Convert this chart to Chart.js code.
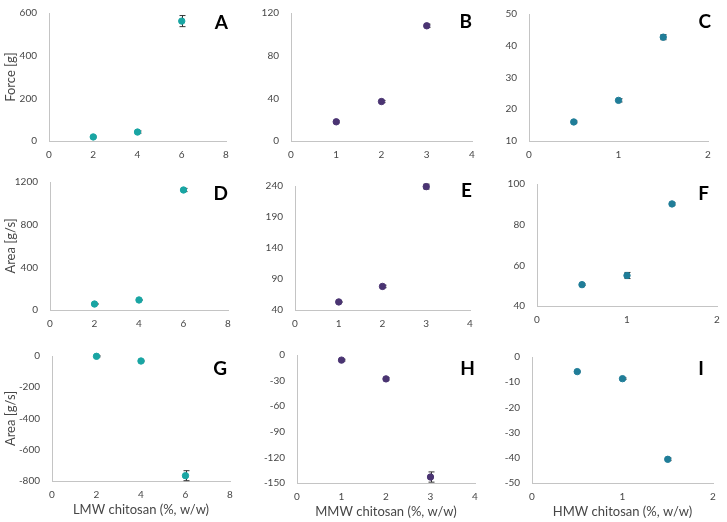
<!DOCTYPE html>
<html>
<head>
<meta charset="utf-8">
<script src="https://cdn.jsdelivr.net/npm/chart.js@4.4.0/dist/chart.umd.min.js"></script>
<style>
    body { margin: 0; background: #fff; width: 727px; height: 522px; position: relative; overflow: hidden; }
    canvas { position: absolute; }
</style>
</head>
<body>
<script>
// chitosan concentrations (%, w/w)
const lmwConc = [2, 4, 6];
const mmwConc = [1, 2, 3];
const hmwConc = [0.5, 1, 1.5];

// Force [g]
const forceLmw = [19, 42, 562];
const forceLmwErr = [4, 5, 26];
const forceMmw = [18, 37, 108];
const forceMmwErr = [1, 1, 1.5];
const forceHmw = [16, 22.8, 42.7];
const forceHmwErr = [0.3, 0.5, 0.8];

// Area [g/s], positive
const areaLmw = [56, 94, 1125];
const areaLmwErr = [5, 5, 15];
const areaMmw = [53, 78, 239];
const areaMmwErr = [1, 2, 4];
const areaHmw = [50.5, 55, 90.2];
const areaHmwErr = [0.4, 1.5, 0.6];

// Area [g/s], negative
const negAreaLmw = [-2, -32, -766];
const negAreaLmwErr = [4, 5, 32];
const negAreaMmw = [-6, -28, -143];
const negAreaMmwErr = [1, 1.5, 6];
const negAreaHmw = [-5.8, -8.6, -40.6];
const negAreaHmwErr = [0.2, 0.3, 0.5];

// axis ranges [min, max, step]
const xRangeLmw = [0, 8, 2];
const xRangeMmw = [0, 4, 1];
const xRangeHmw = [0, 2, 1];

const colorLmw = '#19a5a3';
const colorMmw = '#4a3472';
const colorHmw = '#207d98';

const panels = [
    { id: 'A', x: lmwConc, y: forceLmw, err: forceLmwErr, color: colorLmw, xr: xRangeLmw, yr: [0, 600, 200], yTitle: 'Force [g]' },
    { id: 'B', x: mmwConc, y: forceMmw, err: forceMmwErr, color: colorMmw, xr: xRangeMmw, yr: [0, 120, 40] },
    { id: 'C', x: hmwConc, y: forceHmw, err: forceHmwErr, color: colorHmw, xr: xRangeHmw, yr: [10, 50, 10] },
    { id: 'D', x: lmwConc, y: areaLmw, err: areaLmwErr, color: colorLmw, xr: xRangeLmw, yr: [0, 1200, 400], yTitle: 'Area [g/s]' },
    { id: 'E', x: mmwConc, y: areaMmw, err: areaMmwErr, color: colorMmw, xr: xRangeMmw, yr: [40, 240, 50] },
    { id: 'F', x: hmwConc, y: areaHmw, err: areaHmwErr, color: colorHmw, xr: xRangeHmw, yr: [40, 100, 20] },
    { id: 'G', x: lmwConc, y: negAreaLmw, err: negAreaLmwErr, color: colorLmw, xr: xRangeLmw, yr: [-800, 0, 200], yTitle: 'Area [g/s]', xTitle: 'LMW chitosan (%, w/w)' },
    { id: 'H', x: mmwConc, y: negAreaMmw, err: negAreaMmwErr, color: colorMmw, xr: xRangeMmw, yr: [-150, 0, 30], xTitle: 'MMW chitosan (%, w/w)' },
    { id: 'I', x: hmwConc, y: negAreaHmw, err: negAreaHmwErr, color: colorHmw, xr: xRangeHmw, yr: [-50, 0, 10], xTitle: 'HMW chitosan (%, w/w)' }
];

// plot area boxes [left, top, right, bottom] and letter offsets [dx, dy]
const colStart = [0, 245, 488];
const rowStart = [0, 168, 340];
const areas = {
    A: [49, 13, 226, 141], B: [291, 13, 472, 141], C: [529, 14, 708, 141],
    D: [50, 182, 228, 310], E: [295, 186, 470, 310], F: [537, 184, 717, 306],
    G: [52, 356, 230, 481], H: [297, 355, 475, 483], I: [532, 357, 713, 483]
};
const letterOffsets = {
    A: [2, 10], B: [0, 9], C: [3, 8], D: [0, 12], E: [2, 5],
    F: [-8, 10], G: [-3, 13], H: [0, 14], I: [-9, 12]
};

const tickFont = { family: 'Lato', size: 10 };
const titleFont = { family: 'Lato', size: 13 };
const textColor = '#474747';

// drawn before the points so tiny bars hide behind the markers
const errorBarPlugin = {
    id: 'errorBars',
    beforeDatasetsDraw(chart, args, opts) {
        const ctx = chart.ctx;
        const xs = chart.scales.x;
        const ys = chart.scales.y;
        ctx.save();
        ctx.strokeStyle = '#333';
        ctx.lineWidth = 1;
        opts.x.forEach((xv, i) => {
            const px = Math.round(xs.getPixelForValue(xv)) + 0.5;
            const top = ys.getPixelForValue(opts.y[i] + opts.err[i]);
            const bot = ys.getPixelForValue(opts.y[i] - opts.err[i]);
            ctx.beginPath();
            ctx.moveTo(px, top);
            ctx.lineTo(px, bot);
            ctx.moveTo(px - 3, top);
            ctx.lineTo(px + 3, top);
            ctx.moveTo(px - 3, bot);
            ctx.lineTo(px + 3, bot);
            ctx.stroke();
        });
        ctx.restore();
    }
};

const letterPlugin = {
    id: 'panelLetter',
    afterDraw(chart, args, opts) {
        const ctx = chart.ctx;
        const area = chart.chartArea;
        ctx.save();
        ctx.font = 'bold 19px Lato';
        ctx.fillStyle = '#000';
        ctx.textAlign = 'right';
        ctx.textBaseline = 'middle';
        ctx.fillText(opts.text, area.right + opts.dx, area.top + opts.dy);
        ctx.restore();
    }
};

panels.forEach((p, idx) => {
    const box = areas[p.id];
    const left = colStart[idx % 3];
    const top = rowStart[Math.floor(idx / 3)];
    const yw = box[0] - left;
    const xh = p.xTitle ? 40 : 22;

    const canvas = document.createElement('canvas');
    canvas.width = box[2] + 8 - left;
    canvas.height = box[3] + xh - top;
    canvas.style.left = left + 'px';
    canvas.style.top = top + 'px';
    document.body.appendChild(canvas);

    new Chart(canvas.getContext('2d'), {
        type: 'scatter',
        data: {
            datasets: [{
                data: p.x.map((xv, i) => ({ x: xv, y: p.y[i] })),
                backgroundColor: p.color,
                borderColor: p.color,
                pointRadius: 3.2,
                pointHoverRadius: 3.2,
                clip: false
            }]
        },
        plugins: [errorBarPlugin, letterPlugin],
        options: {
            responsive: false,
            animation: false,
            layout: { padding: { top: box[1] - top, right: 8, left: 0, bottom: 0 } },
            plugins: {
                legend: { display: false },
                tooltip: { enabled: false },
                errorBars: { x: p.x, y: p.y, err: p.err },
                panelLetter: { text: p.id, dx: letterOffsets[p.id][0], dy: letterOffsets[p.id][1] }
            },
            scales: {
                x: {
                    type: 'linear',
                    min: p.xr[0],
                    max: p.xr[1],
                    ticks: { stepSize: p.xr[2], font: tickFont, color: textColor, padding: 8, maxRotation: 0, callback: v => String(v) },
                    grid: { display: false, drawTicks: false },
                    border: { display: true, color: '#c4c4c4' },
                    title: { display: !!p.xTitle, text: p.xTitle || '', font: titleFont, color: textColor, padding: 3 },
                    afterFit: function(scale) {
                        scale.height = xh;
                        scale.paddingLeft = 0;
                        scale.paddingRight = 0;
                    }
                },
                y: {
                    type: 'linear',
                    min: p.yr[0],
                    max: p.yr[1],
                    ticks: { stepSize: p.yr[2], font: tickFont, color: textColor, padding: 12, callback: v => String(v) },
                    grid: { display: false, drawTicks: false },
                    border: { display: true, color: '#c4c4c4' },
                    title: { display: !!p.yTitle, text: p.yTitle || '', font: titleFont, color: textColor, padding: 3 },
                    afterFit: function(scale) {
                        scale.width = yw;
                        scale.paddingTop = 0;
                        scale.paddingBottom = 0;
                    }
                }
            }
        }
    });
});
</script>
</body>
</html>
